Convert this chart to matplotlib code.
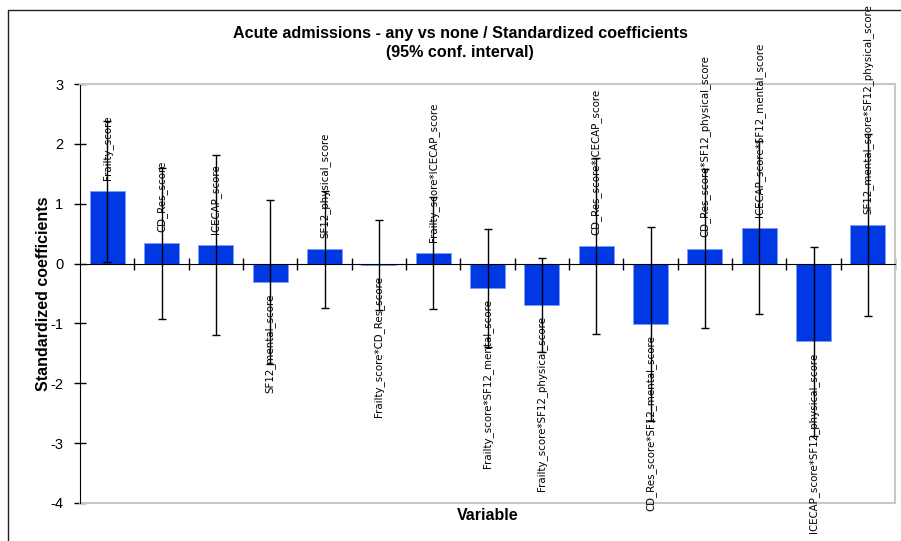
import numpy as np
import matplotlib
matplotlib.use("Agg")
from matplotlib import pyplot as plt
from matplotlib.patches import Rectangle

# values
variables = ["Frailty_score", "CD_Res_score", "ICECAP_score", "SF12_mental_score",
             "SF12_physical_score", "Frailty_score*CD_Res_score",
             "Frailty_score*ICECAP_score", "Frailty_score*SF12_mental_score",
             "Frailty_score*SF12_physical_score", "CD_Res_score*ICECAP_score",
             "CD_Res_score*SF12_mental_score", "CD_Res_score*SF12_physical_score",
             "ICECAP_score*SF12_mental_score", "ICECAP_score*SF12_physical_score",
             "SF12_mental_score*SF12_physical_score"]
coefs = [1.21, 0.34, 0.31, -0.31, 0.24, -0.03, 0.18, -0.41, -0.69, 0.29,
         -1.01, 0.25, 0.60, -1.30, 0.64]
ci_half = [1.18, 1.26, 1.51, 1.37, 0.98, 0.75, 0.94, 0.98, 0.78, 1.47,
           1.62, 1.33, 1.44, 1.58, 1.52]
yticks = [3, 2, 1, 0, -1, -2, -3, -4]

fig = plt.figure(figsize=(9.01, 5.41), dpi=100)
ax = fig.add_axes([80/901, 1-503/541, (895-80)/901, (503-84)/541])

x = np.arange(len(variables))
ax.bar(x, coefs, width=0.64, color="#0039e3", edgecolor="#7d9cf2", linewidth=0.6, zorder=2)
ax.errorbar(x, coefs, yerr=ci_half, fmt="none", ecolor="black", elinewidth=1,
            capsize=3, capthick=1, zorder=4)

for xi, v, name in zip(x, coefs, variables):
    if v >= 0:
        ax.annotate(name, (xi, v), xytext=(0, 8), textcoords="offset points",
                    rotation=90, ha="center", va="bottom", fontsize=7.4,
                    family="DejaVu Sans", zorder=3, annotation_clip=False)
    else:
        ax.annotate(name, (xi, v), xytext=(0, -8), textcoords="offset points",
                    rotation=90, ha="center", va="top", fontsize=7.4,
                    family="DejaVu Sans", zorder=3, annotation_clip=False)

ax.set_xlim(-0.5, len(variables) - 0.5)
ax.set_ylim(-4, 3)
ax.set_yticks(yticks)
ax.set_yticklabels([str(t) for t in yticks], fontsize=10.5, family="Liberation Sans")
ax.tick_params(axis="y", direction="inout", length=8, width=1, pad=8)

# x axis drawn along zero with ticks at category boundaries
ax.spines["bottom"].set_position(("data", 0))
ax.spines["bottom"].set_zorder(5)
ax.set_xticks(np.arange(0.5, len(variables) + 0.5, 1.0))
ax.set_xticklabels([])
ax.tick_params(axis="x", direction="inout", length=8, width=1)
ax.spines["left"].set_color("black")
ax.spines["top"].set_color("#c8c8c8")
ax.spines["right"].set_color("#c8c8c8")
ax.spines["top"].set_linewidth(1.5)
ax.spines["right"].set_linewidth(1.5)
ax.axhline(-4, color="#c8c8c8", lw=1.5, clip_on=False)

ax.set_ylabel("Standardized coefficients", fontsize=11.5, fontweight="bold",
              family="Liberation Sans")
ax.yaxis.set_label_coords(-0.036, 0.5)
fig.text((80+895)/2/901, 1-516/541, "Variable", fontsize=11.5, fontweight="bold",
         family="Liberation Sans", ha="center", va="center")
fig.text(460/901, 1-43/541, "Acute admissions - any vs none / Standardized coefficients\n(95% conf. interval)",
         fontsize=11.6, fontweight="bold", family="Liberation Sans", ha="center", va="center",
         linespacing=1.3)

# outer chart frame (cropped at right/bottom)
fig.patches.append(Rectangle((8/901, -0.1), 1.2, 1.1 - 10/541, transform=fig.transFigure,
                             fill=False, edgecolor="#222222", linewidth=1))

fig.savefig("out.png", dpi=100)
